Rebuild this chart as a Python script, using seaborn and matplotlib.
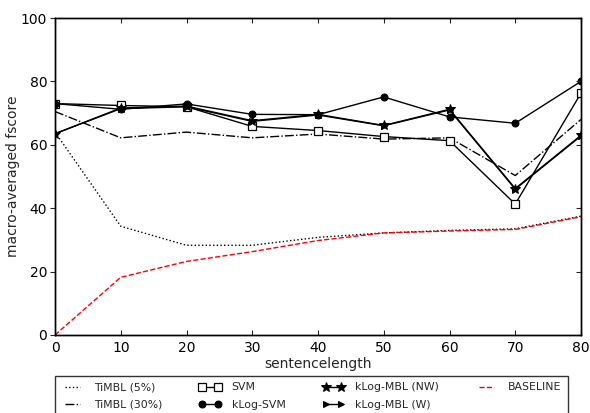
import matplotlib
matplotlib.use("Agg")
import matplotlib.pyplot as plt
import seaborn as sns
import pandas as pd

sns.set_style("ticks")
plt.rcParams['font.family'] = ['DejaVu Sans']

sentence_length = [0, 10, 20, 30, 40, 50, 60, 70, 80]
timbl_5 = [64, 34.3, 28.3, 28.3, 30.8, 32.2, 33.0, 33.5, 37.5]
timbl_30 = [70.5, 62.2, 64.0, 62.2, 63.4, 61.8, 62.2, 50.3, 68.0]
svm = [73.0, 72.4, 72.0, 65.8, 64.5, 62.6, 61.3, 41.3, 76.3]
klog_svm = [73.0, 71.2, 72.9, 69.6, 69.5, 75.1, 68.8, 66.8, 80.0]
klog_mbl_nw = [63.5, 71.6, 72.2, 67.6, 69.6, 66.1, 71.2, 46.2, 63.0]
klog_mbl_w = [63.5, 71.4, 72.0, 67.4, 69.4, 66.0, 71.0, 46.0, 62.8]
baseline = [0.0, 18.2, 23.2, 26.3, 29.8, 32.2, 32.8, 33.3, 37.3]

x_ticks = [0, 10, 20, 30, 40, 50, 60, 70, 80]
y_ticks = [0, 20, 40, 60, 80, 100]

fig = plt.figure(figsize=(5.9, 4.13), dpi=100)
ax = fig.add_axes([55/590, 1-335/413, (581-55)/590, (335-18)/413])

series = [
    ("TiMBL (5%)", timbl_5, dict(color="black", linestyle=":", linewidth=1.0, dashes=(1, 3))),
    ("TiMBL (30%)", timbl_30, dict(color="black", linestyle="-.", linewidth=1.0, dashes=(2.5, 3.5, 1, 3.5))),
    ("SVM", svm, dict(color="black", linestyle="-", linewidth=1.0, marker="s",
                      markersize=5.5, markerfacecolor="white", markeredgecolor="black",
                      markeredgewidth=0.9)),
    ("kLog-SVM", klog_svm, dict(color="black", linestyle="-", linewidth=1.0, marker="o",
                                markersize=5, markerfacecolor="black", markeredgecolor="black")),
    ("kLog-MBL (W)", klog_mbl_w, dict(color="black", linestyle="-", linewidth=1.0, marker=">",
                                      markersize=5, markerfacecolor="black", markeredgecolor="black")),
    ("kLog-MBL (NW)", klog_mbl_nw, dict(color="black", linestyle="-", linewidth=1.0, marker="*",
                                        markersize=7, markerfacecolor="black", markeredgecolor="black")),
    ("BASELINE", baseline, dict(color="red", linestyle="--", linewidth=1.0, dashes=(4, 3.5))),
]

handles = {}
for name, vals, kw in series:
    df = pd.DataFrame({"x": sentence_length, "y": vals})
    sns.lineplot(data=df, x="x", y="y", ax=ax, label=name, legend=False, **kw)
    handles[name] = ax.lines[-1]

ax.set_xlim(0, 80)
ax.set_ylim(0, 100)
ax.set_xticks(x_ticks)
ax.set_yticks(y_ticks)
ax.set_xlabel("sentencelength", fontsize=10, labelpad=2)
ax.set_ylabel("macro-averaged fscore", fontsize=10)
ax.yaxis.set_label_coords(-0.066, 0.5)
for s in ax.spines.values():
    s.set_visible(True)
    s.set_linewidth(1.0)
    s.set_color("black")
ax.tick_params(axis="x", direction="in", top=True, bottom=True, length=3.6, labelsize=10, pad=4,
               labelcolor="black")
ax.tick_params(axis="y", direction="out", left=True, right=False, length=3.6, labelsize=10, pad=2,
               labelcolor="black")

ax2 = ax.twinx()
ax2.set_ylim(0, 100)
ax2.set_yticks(y_ticks)
ax2.tick_params(axis="y", direction="in", right=True, labelright=False, length=3.6)
for s in ax2.spines.values():
    s.set_linewidth(1.0)
    s.set_color("black")

order = ["TiMBL (5%)", "TiMBL (30%)", "SVM", "kLog-SVM",
         "kLog-MBL (NW)", "kLog-MBL (W)", "BASELINE"]
leg = fig.legend([handles[n] for n in order], order, ncol=4,
                 loc="upper left", bbox_to_anchor=(55/590, 1-376/413),
                 borderaxespad=0, fontsize=7.8, frameon=True,
                 fancybox=False, edgecolor="black", handlelength=2.0,
                 numpoints=2, borderpad=0.6, labelspacing=0.65, handletextpad=1.0,
                 columnspacing=3.4)
leg.get_frame().set_linewidth(1.0)

fig.savefig("out.png", dpi=100)
